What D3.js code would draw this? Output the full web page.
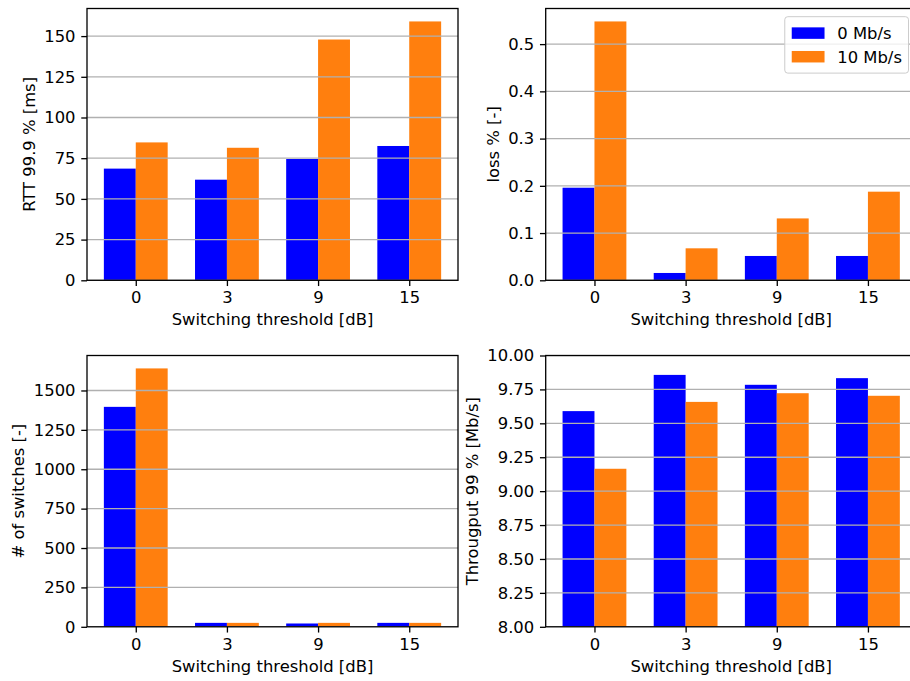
<!DOCTYPE html>
<html>
<head>
<meta charset="utf-8">
<script src="https://cdn.jsdelivr.net/npm/d3@7"></script>
<style>
  html, body { margin: 0; padding: 0; background: #ffffff; }
  svg { display: block; overflow: hidden; }
  text { font-family: "DejaVu Sans", sans-serif; fill: #000; }
</style>
</head>
<body>
<svg id="chart" width="910" height="681"></svg>
<script>
// ---------- data ----------
const categories = ["0", "3", "9", "15"];
const seriesNames = ["0 Mb/s", "10 Mb/s"];
const seriesColors = ["#0000ff", "#ff7f0e"];
const xLabel = "Switching threshold [dB]";

const rtt0 = [68.6, 61.8, 74.5, 82.5];
const rtt10 = [84.7, 81.4, 147.9, 159.0];
const rttTicks = [0, 25, 50, 75, 100, 125, 150];

const loss0 = [0.196, 0.0155, 0.0515, 0.0515];
const loss10 = [0.548, 0.0677, 0.131, 0.1876];
const lossTicks = [0.0, 0.1, 0.2, 0.3, 0.4, 0.5];

const switches0 = [1396, 25, 21, 25];
const switches10 = [1640, 25, 25, 25];
const switchTicks = [0, 250, 500, 750, 1000, 1250, 1500];

const thr0 = [9.59, 9.857, 9.784, 9.833];
const thr10 = [9.165, 9.658, 9.722, 9.703];
const thrTicks = [8.0, 8.25, 8.5, 8.75, 9.0, 9.25, 9.5, 9.75, 10.0];

// ---------- layout ----------
const FS = 16.4;           // font size px
const PT = FS / 10;        // px per pt
const svg = d3.select("#chart");

const panels = [
  { x0: 87, x1: 458, y0: 8.5, y1: 280.3, s0: rtt0, s1: rtt10, ticks: rttTicks, fmt: d3.format("d"),
    ylabel: "RTT 99.9 % [ms]", ymin: 0, auto: true, legend: false },
  { x0: 545.7, x1: 916.7, y0: 8.5, y1: 280.3, s0: loss0, s1: loss10, ticks: lossTicks, fmt: d3.format(".1f"),
    ylabel: "loss % [-]", ymin: 0, auto: true, legend: true },
  { x0: 87, x1: 458, y0: 355.5, y1: 626.8, s0: switches0, s1: switches10, ticks: switchTicks, fmt: d3.format("d"),
    ylabel: "# of switches [-]", ymin: 0, auto: true, legend: false },
  { x0: 545.7, x1: 916.7, y0: 355.5, y1: 626.8, s0: thr0, s1: thr10, ticks: thrTicks, fmt: d3.format(".2f"),
    ylabel: "Througput 99 % [Mb/s]", ymin: 8.0, ymax: 10.0, auto: false, legend: false }
];

const barW = 0.35;

panels.forEach((p, pi) => {
  const g = svg.append("g");
  const n = categories.length;
  const x = d3.scaleLinear()
    .domain([-barW - 0.05 * (n - 1 + 2 * barW), (n - 1) + barW + 0.05 * (n - 1 + 2 * barW)])
    .range([p.x0, p.x1]);
  const ymax = p.auto ? d3.max(p.s0.concat(p.s1)) * 1.05 : p.ymax;
  const y = d3.scaleLinear().domain([p.ymin, ymax]).range([p.y1, p.y0]);

  const clipId = "clip" + pi;
  svg.append("clipPath").attr("id", clipId)
    .append("rect").attr("x", p.x0).attr("y", p.y0)
    .attr("width", p.x1 - p.x0).attr("height", p.y1 - p.y0);

  const plot = g.append("g").attr("clip-path", `url(#${clipId})`);

  // bars
  [p.s0, p.s1].forEach((vals, si) => {
    plot.selectAll(null).data(vals).enter().append("rect")
      .attr("x", (d, i) => x(i + (si === 0 ? -barW : 0)))
      .attr("width", (d, i) => x(i + barW) - x(i))
      .attr("y", d => y(d))
      .attr("height", d => y(p.ymin) - y(d))
      .attr("fill", seriesColors[si]);
  });

  // gridlines (over bars, as matplotlib default)
  plot.selectAll(null).data(p.ticks).enter().append("line")
    .attr("x1", p.x0).attr("x2", p.x1)
    .attr("y1", d => y(d)).attr("y2", d => y(d))
    .attr("stroke", "#b0b0b0").attr("stroke-width", 0.8 * PT);

  // axes
  const xAxis = d3.axisBottom(x)
    .tickValues(d3.range(n))
    .tickFormat((d) => categories[d])
    .tickSize(3.5 * PT).tickPadding(3.5 * PT);
  const gx = g.append("g").attr("transform", `translate(0,${p.y1})`).call(xAxis);
  gx.select(".domain").remove();

  const yAxis = d3.axisLeft(y)
    .tickValues(p.ticks)
    .tickFormat(p.fmt)
    .tickSize(3.5 * PT).tickPadding(3.5 * PT);
  const gy = g.append("g").attr("transform", `translate(${p.x0},0)`).call(yAxis);
  gy.select(".domain").remove();

  [gx, gy].forEach(a => {
    a.selectAll(".tick line").attr("stroke", "#000").attr("stroke-width", 0.8 * PT);
    a.selectAll(".tick text").attr("font-size", FS).attr("font-family", "DejaVu Sans").attr("fill", "#000");
  });

  // spines
  g.append("rect")
    .attr("x", p.x0).attr("y", p.y0)
    .attr("width", p.x1 - p.x0).attr("height", p.y1 - p.y0)
    .attr("fill", "none").attr("stroke", "#000").attr("stroke-width", 0.8 * PT);

  // x label
  g.append("text")
    .attr("x", (p.x0 + p.x1) / 2)
    .attr("y", p.y1 + 44.8)
    .attr("text-anchor", "middle")
    .attr("font-size", FS)
    .text(xLabel);

  // y label: placed left of the tick labels (bbox is in the axis group's local coords)
  const bb = gy.node().getBBox();
  const lx = p.x0 + bb.x - 4 * PT - 0.236 * FS + 1;
  g.append("text")
    .attr("transform", `translate(${lx},${(p.y0 + p.y1) / 2}) rotate(-90)`)
    .attr("text-anchor", "middle")
    .attr("font-size", FS)
    .text(p.ylabel);

  // legend
  if (p.legend) {
    const pad = 0.5 * FS;
    const boxR = p.x1 - pad;
    const boxT = p.y0 + pad;
    const handleLen = 2.0 * FS, handleH = 0.7 * FS;
    const borderPad = 0.4 * FS, textPad = 0.8 * FS, rowH = 1.44 * FS;
    const textW = d3.max(seriesNames, s => {
      const t = svg.append("text").attr("font-size", FS).text(s);
      const w = t.node().getComputedTextLength();
      t.remove();
      return w;
    });
    const boxW = borderPad * 2 + handleLen + textPad + textW;
    const boxH = borderPad * 2 + rowH * seriesNames.length - 0.44 * FS + 0.2 * FS;
    const boxL = boxR - boxW;
    const lg = g.append("g");
    lg.append("rect")
      .attr("x", boxL).attr("y", boxT).attr("width", boxW).attr("height", boxH)
      .attr("rx", 3).attr("ry", 3)
      .attr("fill", "#ffffff").attr("fill-opacity", 0.8)
      .attr("stroke", "#cccccc").attr("stroke-width", 1);
    seriesNames.forEach((s, i) => {
      const cy = boxT + borderPad + 0.6 * FS + i * rowH;
      lg.append("rect")
        .attr("x", boxL + borderPad + 0.4).attr("y", cy - handleH / 2)
        .attr("width", handleLen).attr("height", handleH)
        .attr("fill", seriesColors[i]);
      lg.append("text")
        .attr("x", boxL + borderPad + handleLen + textPad)
        .attr("y", cy + 0.36 * FS)
        .attr("font-size", FS)
        .text(s);
    });
  }
});
</script>
</body>
</html>
